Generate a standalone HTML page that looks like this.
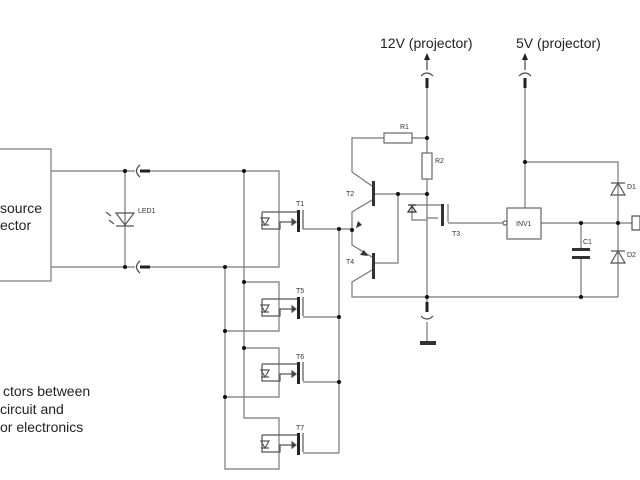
<!DOCTYPE html>
<html><head><meta charset="utf-8"><style>
html,body{margin:0;padding:0;background:#fff;}
svg{display:block;font-family:"Liberation Sans",sans-serif;}
</style></head><body>
<svg width="640" height="480" viewBox="0 0 640 480" xmlns="http://www.w3.org/2000/svg">
<defs>
<g id="cell" fill="none" stroke="#555" stroke-width="1.2">
  <path d="M-36,-9 H-1 M-36,-9 V8 H-18 V1 H-6"/>
  <path d="M-6,-2 L-2,1 L-6,4 Z" fill="#333"/>
  <path d="M-37,-3 L-29,-3 L-33,4 Z M-37,4 H-29"/>
  <rect x="-1" y="-11" width="3" height="22" fill="#222" stroke="none"/>
  <path d="M5,-11 V8"/>
</g>
</defs>
<g fill="none" stroke="#777" stroke-width="1.2">
<rect x="-5" y="149" width="56" height="132"/>
<path d="M51,171 H135 M148,171 H279 V267 H148 M135,267 H51"/>
<path d="M125,171 V267"/>
<path d="M244,171 V418 H279 V469 H225 V267"/>
<path d="M244,282 H279 V331 H225 M244,348 H279 V397 H225"/>
<path d="M303,229 H352 M303,317 H339 M303,382 H339 M303,453 H339 M339,229 V453"/>
<path d="M427,80 V297 M427,138 H412 M384,138 H352 V172 L372,186"/>
<path d="M374,194 H427 M398,194 V263 H374"/>
<path d="M352,230 V212 L372,200 M352,230 V245 L372,257 M372,270 L352,282 V297 H618"/>
<path d="M427,297 V312 M427,322 V342"/>
<path d="M412,205 H441 M412,205 V220 H427 M427,218 H438 M448,204 V222 M448,223 H507"/>
<path d="M525,80 V208 M525,162 H618 V297 M541,223 H632 M581,223 V250 M581,258 V297"/>
</g>
<g fill="#333" stroke="#333" stroke-width="1.2">
<path d="M408,212 L416,212 L412,206 Z M408,205 H416" fill="none"/>
<rect x="441" y="204" width="3" height="22" stroke="none"/>
<rect x="372" y="181" width="3" height="25" stroke="none"/>
<rect x="372" y="253" width="3" height="26" stroke="none"/>
<path d="M356,228 L358,221 L362,225 Z M368,256 L360,255 L364,250 Z" stroke="none"/>
<rect x="572" y="248" width="18" height="3" stroke="none"/>
<rect x="572" y="256" width="18" height="3" stroke="none"/>
<rect x="420" y="341" width="16" height="4" stroke="none"/>
</g>
<g fill="#fff" stroke="#666" stroke-width="1.2">
<rect x="384" y="133" width="28" height="10"/>
<rect x="422" y="153" width="10" height="26"/>
<rect x="507" y="208" width="34" height="31"/>
<circle cx="505" cy="223" r="2"/>
</g>
<g fill="none" stroke="#555" stroke-width="1.2">
<path d="M611,195 L625,195 L618,183 Z M611,183 H625"/>
<path d="M611,263 L625,263 L618,251 Z M611,251 H625"/>
<path d="M116,213 L134,213 L125,225 Z M116,226 H134"/>
<path d="M632,216 h8 v14 h-8 Z"/>
</g>
<path d="M106,212 l5,4 M109,220 l5,4" stroke="#555" stroke-width="1.2"/>
<g fill="none" stroke="#444" stroke-width="1.2">
<path d="M140,165 q-7,6 0,12 M140,261 q-7,6 0,12"/>
<path d="M421,76 q6,-6 12,0 M519,76 q6,-6 12,0 M421,316 q6,6 12,0"/>
</g>
<g fill="#222">
<rect x="140" y="169.5" width="10" height="3"/><rect x="140" y="265.5" width="10" height="3"/>
<rect x="425.5" y="78" width="3" height="10"/><rect x="523.5" y="78" width="3" height="10"/>
<rect x="425.5" y="302" width="3" height="10"/>
<path d="M424,60 L427,53 L430,60 Z M522,60 L525,53 L528,60 Z"/>
<path d="M427,60 V70 M525,60 V70" stroke="#444" stroke-width="1.2"/>
</g>
<use href="#cell" x="298" y="221"/>
<use href="#cell" x="298" y="308"/>
<use href="#cell" x="298" y="373"/>
<use href="#cell" x="298" y="444"/>
<g fill="#111">
<circle cx="125" cy="171" r="2"/><circle cx="125" cy="267" r="2"/>
<circle cx="244" cy="171" r="2"/><circle cx="225" cy="267" r="2"/>
<circle cx="244" cy="282" r="2"/><circle cx="225" cy="331" r="2"/>
<circle cx="244" cy="348" r="2"/><circle cx="225" cy="397" r="2"/>
<circle cx="339" cy="229" r="2"/><circle cx="339" cy="317" r="2"/><circle cx="339" cy="382" r="2"/>
<circle cx="352" cy="230" r="2"/>
<circle cx="427" cy="138" r="2"/><circle cx="427" cy="194" r="2"/><circle cx="398" cy="194" r="2"/>
<circle cx="427" cy="297" r="2"/><circle cx="525" cy="162" r="2"/>
<circle cx="581" cy="223" r="2"/><circle cx="581" cy="297" r="2"/><circle cx="618" cy="223" r="2"/>
</g>
<g fill="#333" font-size="7">
<text x="138" y="213">LED1</text>
<text x="296" y="206">T1</text><text x="296" y="293">T5</text>
<text x="296" y="359">T6</text><text x="296" y="430">T7</text>
<text x="400" y="129">R1</text><text x="435" y="163">R2</text>
<text x="346" y="196">T2</text><text x="346" y="264">T4</text>
<text x="452" y="236">T3</text><text x="516" y="226">INV1</text>
<text x="583" y="244">C1</text><text x="627" y="189">D1</text><text x="627" y="257">D2</text>
</g>
<g fill="#222" font-size="14">
<text x="380" y="48">12V (projector)</text>
<text x="516" y="48">5V (projector)</text>
<text x="0" y="213">source</text>
<text x="0" y="230">ector</text>
<text x="3" y="396">ctors between</text>
<text x="0" y="414">circuit and</text>
<text x="0" y="432">or electronics</text>
</g>
</svg>
</body></html>
